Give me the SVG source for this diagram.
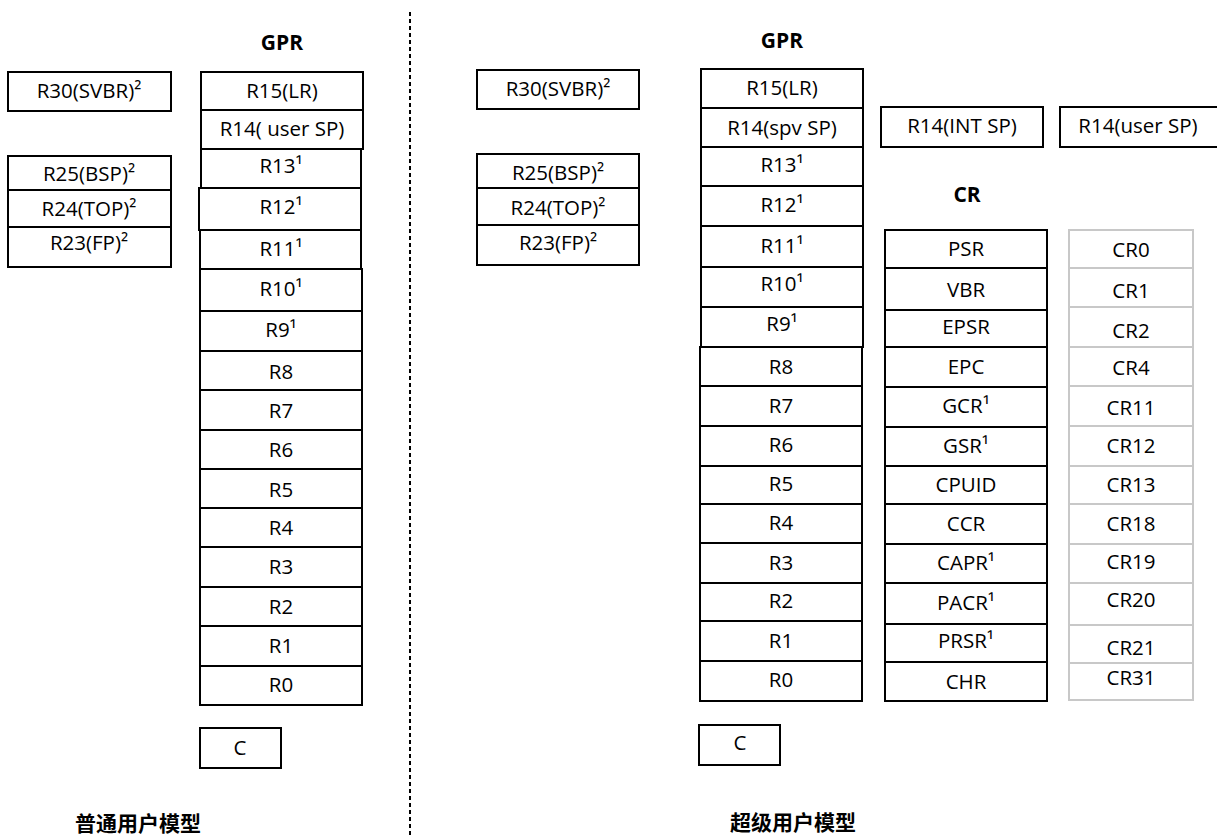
<svg xmlns="http://www.w3.org/2000/svg" width="1217" height="836" viewBox="0 0 1217 836">
<style>
rect{fill:#fff;stroke:#000;stroke-width:2}
rect.g{stroke:#c8c8c8}
text{font-family:"Open Sans","Liberation Sans","Noto Sans CJK SC",sans-serif;font-size:20.5px;text-anchor:middle;fill:#000}
text.t{font-weight:bold;font-size:21px}
text.cn{font-family:"Noto Sans CJK SC","Open Sans",sans-serif;font-weight:bold;font-size:21px}
</style>
<rect x="0" y="0" width="1217" height="836" style="stroke:none"/>
<g id="divider"><line x1="410" y1="12" x2="410" y2="836" stroke="#000" stroke-width="2" stroke-dasharray="4 3"/></g>

<!-- Left: user model -->
<g id="left-svbr"><rect x="8" y="72" width="163" height="39"/><text x="89" y="98">R30(SVBR)²</text></g>
<g id="left-bank">
<rect x="8" y="156" width="163" height="34"/><text x="89" y="181">R25(BSP)²</text>
<rect x="8" y="190" width="163" height="37"/><text x="89" y="216">R24(TOP)²</text>
<rect x="8" y="227" width="163" height="40"/><text x="89" y="250">R23(FP)²</text>
</g>
<text class="t" x="282" y="50">GPR</text>
<g id="left-gpr">
<rect x="201" y="72" width="162" height="38"/><text x="282" y="98">R15(LR)</text>
<rect x="201" y="110" width="162" height="39"/><text x="282" y="136">R14( user SP)</text>
<rect x="201" y="149" width="160" height="39"/><text x="281" y="173">R13¹</text>
<rect x="199" y="188" width="162" height="42"/><text x="281" y="214">R12¹</text>
<rect x="200" y="230" width="161" height="39"/><text x="281" y="256">R11¹</text>
<rect x="200" y="269" width="162" height="42"/><text x="281" y="296">R10¹</text>
<rect x="200" y="311" width="162" height="40"/><text x="281" y="337">R9¹</text>
<rect x="200" y="351" width="162" height="39"/><text x="281" y="379">R8</text>
<rect x="200" y="390" width="162" height="40"/><text x="281" y="418">R7</text>
<rect x="200" y="430" width="162" height="39"/><text x="281" y="457">R6</text>
<rect x="200" y="469" width="162" height="39"/><text x="281" y="497">R5</text>
<rect x="200" y="508" width="162" height="39"/><text x="281" y="535">R4</text>
<rect x="200" y="547" width="162" height="40"/><text x="281" y="574">R3</text>
<rect x="200" y="587" width="162" height="39"/><text x="281" y="614">R2</text>
<rect x="200" y="626" width="162" height="40"/><text x="281" y="653">R1</text>
<rect x="200" y="666" width="162" height="39"/><text x="281" y="692">R0</text>
</g>
<g id="left-c"><rect x="200" y="728" width="81" height="40"/><text x="240" y="755">C</text></g>
<text class="cn" x="138" y="831">普通用户模型</text>

<!-- Right: supervisor model -->
<g id="right-svbr"><rect x="477" y="70" width="162" height="39"/><text x="558" y="96">R30(SVBR)²</text></g>
<g id="right-bank">
<rect x="477" y="154" width="162" height="34"/><text x="558" y="180">R25(BSP)²</text>
<rect x="477" y="188" width="162" height="37"/><text x="558" y="215">R24(TOP)²</text>
<rect x="477" y="225" width="162" height="40"/><text x="558" y="250">R23(FP)²</text>
</g>
<text class="t" x="782" y="48">GPR</text>
<g id="right-gpr">
<rect x="701" y="69" width="162" height="39"/><text x="782" y="95">R15(LR)</text>
<rect x="701" y="108" width="162" height="39"/><text x="782" y="135">R14(spv SP)</text>
<rect x="701" y="147" width="162" height="39"/><text x="782" y="172">R13¹</text>
<rect x="701" y="186" width="162" height="40"/><text x="782" y="212">R12¹</text>
<rect x="701" y="226" width="162" height="41"/><text x="782" y="253">R11¹</text>
<rect x="701" y="267" width="162" height="40"/><text x="782" y="291">R10¹</text>
<rect x="701" y="307" width="162" height="40"/><text x="782" y="331">R9¹</text>
<rect x="700" y="347" width="162" height="39"/><text x="781" y="374">R8</text>
<rect x="700" y="386" width="162" height="40"/><text x="781" y="413">R7</text>
<rect x="700" y="426" width="162" height="40"/><text x="781" y="452">R6</text>
<rect x="700" y="466" width="162" height="38"/><text x="781" y="491">R5</text>
<rect x="700" y="504" width="162" height="39"/><text x="781" y="530">R4</text>
<rect x="700" y="543" width="162" height="40"/><text x="781" y="570">R3</text>
<rect x="700" y="583" width="162" height="38"/><text x="781" y="608">R2</text>
<rect x="700" y="621" width="162" height="40"/><text x="781" y="648">R1</text>
<rect x="700" y="661" width="162" height="40"/><text x="781" y="687">R0</text>
</g>
<g id="right-c"><rect x="699" y="725" width="81" height="40"/><text x="740" y="750">C</text></g>
<g id="int-sp"><rect x="881" y="107" width="162" height="40"/><text x="962" y="133">R14(INT SP)</text></g>
<g id="user-sp"><rect x="1060" y="107" width="160" height="40"/><text x="1138" y="133">R14(user SP)</text></g>
<text class="t" x="967" y="202">CR</text>
<g id="cr-names">
<rect x="885" y="230" width="162" height="38"/><text x="966" y="256">PSR</text>
<rect x="885" y="268" width="162" height="42"/><text x="966" y="297">VBR</text>
<rect x="885" y="310" width="162" height="37"/><text x="966" y="334">EPSR</text>
<rect x="885" y="347" width="162" height="40"/><text x="966" y="374">EPC</text>
<rect x="885" y="387" width="162" height="40"/><text x="966" y="413">GCR¹</text>
<rect x="885" y="427" width="162" height="39"/><text x="966" y="453">GSR¹</text>
<rect x="885" y="466" width="162" height="38"/><text x="966" y="492">CPUID</text>
<rect x="885" y="504" width="162" height="40"/><text x="966" y="531">CCR</text>
<rect x="885" y="544" width="162" height="39"/><text x="966" y="570">CAPR¹</text>
<rect x="885" y="583" width="162" height="41"/><text x="966" y="610">PACR¹</text>
<rect x="885" y="624" width="162" height="38"/><text x="966" y="648">PRSR¹</text>
<rect x="885" y="662" width="162" height="39"/><text x="966" y="689">CHR</text>
</g>
<g id="cr-numbers">
<rect class="g" x="1069" y="230" width="124" height="38"/><text x="1131" y="257">CR0</text>
<rect class="g" x="1069" y="268" width="124" height="39"/><text x="1131" y="298">CR1</text>
<rect class="g" x="1069" y="307" width="124" height="40"/><text x="1131" y="338">CR2</text>
<rect class="g" x="1069" y="347" width="124" height="39"/><text x="1131" y="375">CR4</text>
<rect class="g" x="1069" y="386" width="124" height="40"/><text x="1131" y="415">CR11</text>
<rect class="g" x="1069" y="426" width="124" height="40"/><text x="1131" y="453">CR12</text>
<rect class="g" x="1069" y="466" width="124" height="38"/><text x="1131" y="492">CR13</text>
<rect class="g" x="1069" y="504" width="124" height="40"/><text x="1131" y="531">CR18</text>
<rect class="g" x="1069" y="544" width="124" height="39"/><text x="1131" y="569">CR19</text>
<rect class="g" x="1069" y="583" width="124" height="42"/><text x="1131" y="607">CR20</text>
<rect class="g" x="1069" y="625" width="124" height="38"/><text x="1131" y="655">CR21</text>
<rect class="g" x="1069" y="663" width="124" height="37"/><text x="1131" y="685">CR31</text>
</g>
<text class="cn" x="793" y="830">超级用户模型</text>
</svg>
